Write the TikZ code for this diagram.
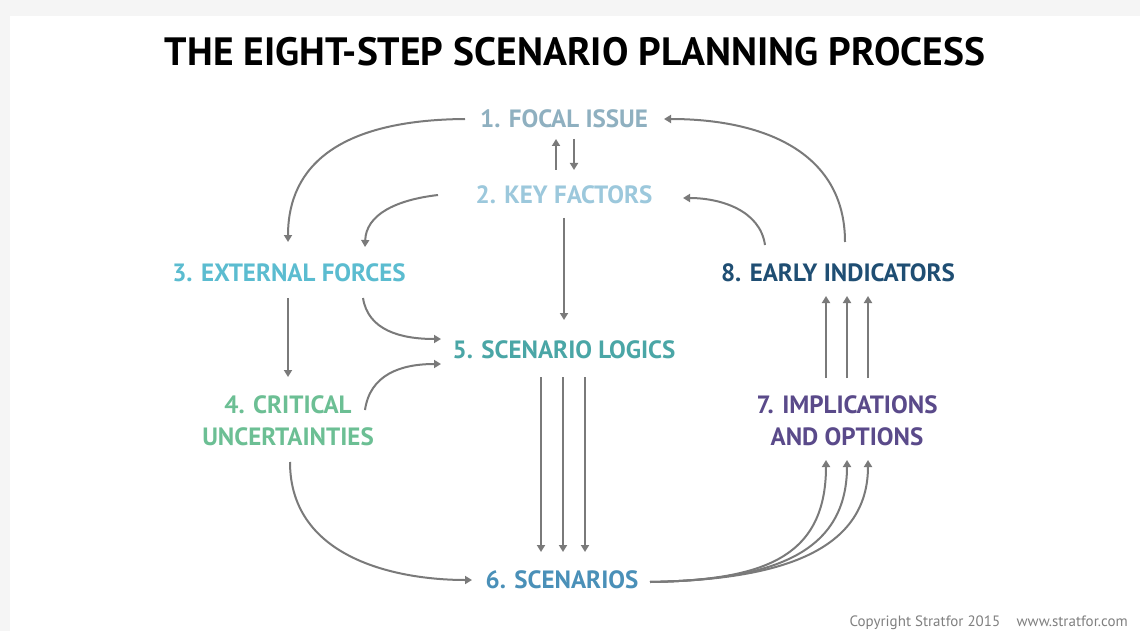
\documentclass[tikz,border=0pt]{standalone}
\usepackage{fontspec}
\setmainfont{PT Sans}
\newfontfamily\lab{PT Sans}
\usetikzlibrary{arrows.meta}
\definecolor{arr}{HTML}{7A7A7A}
\definecolor{cOne}{HTML}{8FB0C0}
\definecolor{cTwo}{HTML}{9CC8DC}
\definecolor{cThree}{HTML}{5BBCD0}
\definecolor{cFour}{HTML}{6CBF94}
\definecolor{cFive}{HTML}{4AA6A6}
\definecolor{cSix}{HTML}{4A90B8}
\definecolor{cSeven}{HTML}{5A4A8A}
\definecolor{cEight}{HTML}{1F4E73}
\begin{document}
\begin{tikzpicture}[x=1pt,y=-1pt,
  lbl/.style={font=\lab\bfseries\fontsize{25}{30}\selectfont, inner sep=0pt, align=center},
  conn/.style={draw=arr, line width=2pt, -{Triangle[length=7pt,width=8pt]}}]
\useasboundingbox (0,0) rectangle (1140,631);
\fill[gray!8] (0,0) rectangle (1140,631);
\fill[white] (10,16) rectangle (1140,631);
\node[font=\lab\bfseries\fontsize{39.5}{44}\selectfont, inner sep=0pt] (title) at (575,52) {THE EIGHT-STEP SCENARIO PLANNING PROCESS};
\node[lbl, text=cOne] (n1) at (564,119) {1. FOCAL ISSUE};
\node[lbl, text=cTwo] (n2) at (564,195) {2. KEY FACTORS};
\node[lbl, text=cThree] (n3) at (289,273) {3. EXTERNAL FORCES};
\node[lbl, text=cFour] (n4) at (288,421) {4. CRITICAL\\[2pt]UNCERTAINTIES};
\node[lbl, text=cFive] (n5) at (564,350) {5. SCENARIO LOGICS};
\node[lbl, text=cSix] (n6) at (562,580) {6. SCENARIOS};
\node[lbl, text=cSeven] (n7) at (847,421) {7. IMPLICATIONS\\[2pt]AND OPTIONS};
\node[lbl, text=cEight] (n8) at (838,273) {8. EARLY INDICATORS};
\node[font=\fontsize{15}{18}\selectfont, text=gray, anchor=east, inner sep=0pt] (copy) at (1128,623) {Copyright Stratfor 2015\hspace{1.1em}www.stratfor.com};
% coordinates
\coordinate (a1s) at (465,119); \coordinate (a1e) at (288,242);
\coordinate (a2s) at (438,195); \coordinate (a2e) at (365,247);
\coordinate (u1s) at (556,170); \coordinate (u1e) at (556,139);
\coordinate (d1s) at (574,139); \coordinate (d1e) at (574,170);
\coordinate (k5s) at (564,218); \coordinate (k5e) at (564,320);
\coordinate (e4s) at (288,298); \coordinate (e4e) at (288,377);
\coordinate (e5s) at (363,298); \coordinate (e5e) at (441,339);
\coordinate (c5s) at (365,410); \coordinate (c5e) at (441,364);
\coordinate (c6s) at (290,462); \coordinate (c6e) at (472,580);
\coordinate (p8s) at (765,245); \coordinate (p8e) at (683,198);
\coordinate (q8s) at (845,242); \coordinate (q8e) at (664,119);
\coordinate (s7s) at (650,582);
\draw[conn] (a1s) .. controls (340,120) and (288,165) .. (a1e);
\draw[conn] (a2s) .. controls (395,200) and (366,215) .. (a2e);
\draw[conn] (u1s) -- (u1e);
\draw[conn] (d1s) -- (d1e);
\draw[conn] (k5s) -- (k5e);
\draw[conn] (e4s) -- (e4e);
\draw[conn] (e5s) .. controls (368,330) and (400,339) .. (e5e);
\draw[conn] (c5s) .. controls (370,375) and (400,364) .. (c5e);
\draw[conn] (c6s) .. controls (290,560) and (400,580) .. (c6e);
\foreach \x in {541,563,585} {
  \coordinate (l\x s) at (\x,377); \coordinate (l\x e) at (\x,552);
  \draw[conn] (l\x s) -- (l\x e);
}
\foreach \x in {826,847,868} {
  \coordinate (i\x s) at (\x,378); \coordinate (i\x e) at (\x,296);
  \draw[conn] (i\x s) -- (i\x e);
  \coordinate (t\x e) at (\x,460);
  \draw[conn] (s7s) .. controls (760,580) and (\x,560) .. (t\x e);
}
\draw[conn] (p8s) .. controls (760,210) and (720,198) .. (p8e);
\draw[conn] (q8s) .. controls (845,150) and (760,119) .. (q8e);
\end{tikzpicture}
\end{document}
